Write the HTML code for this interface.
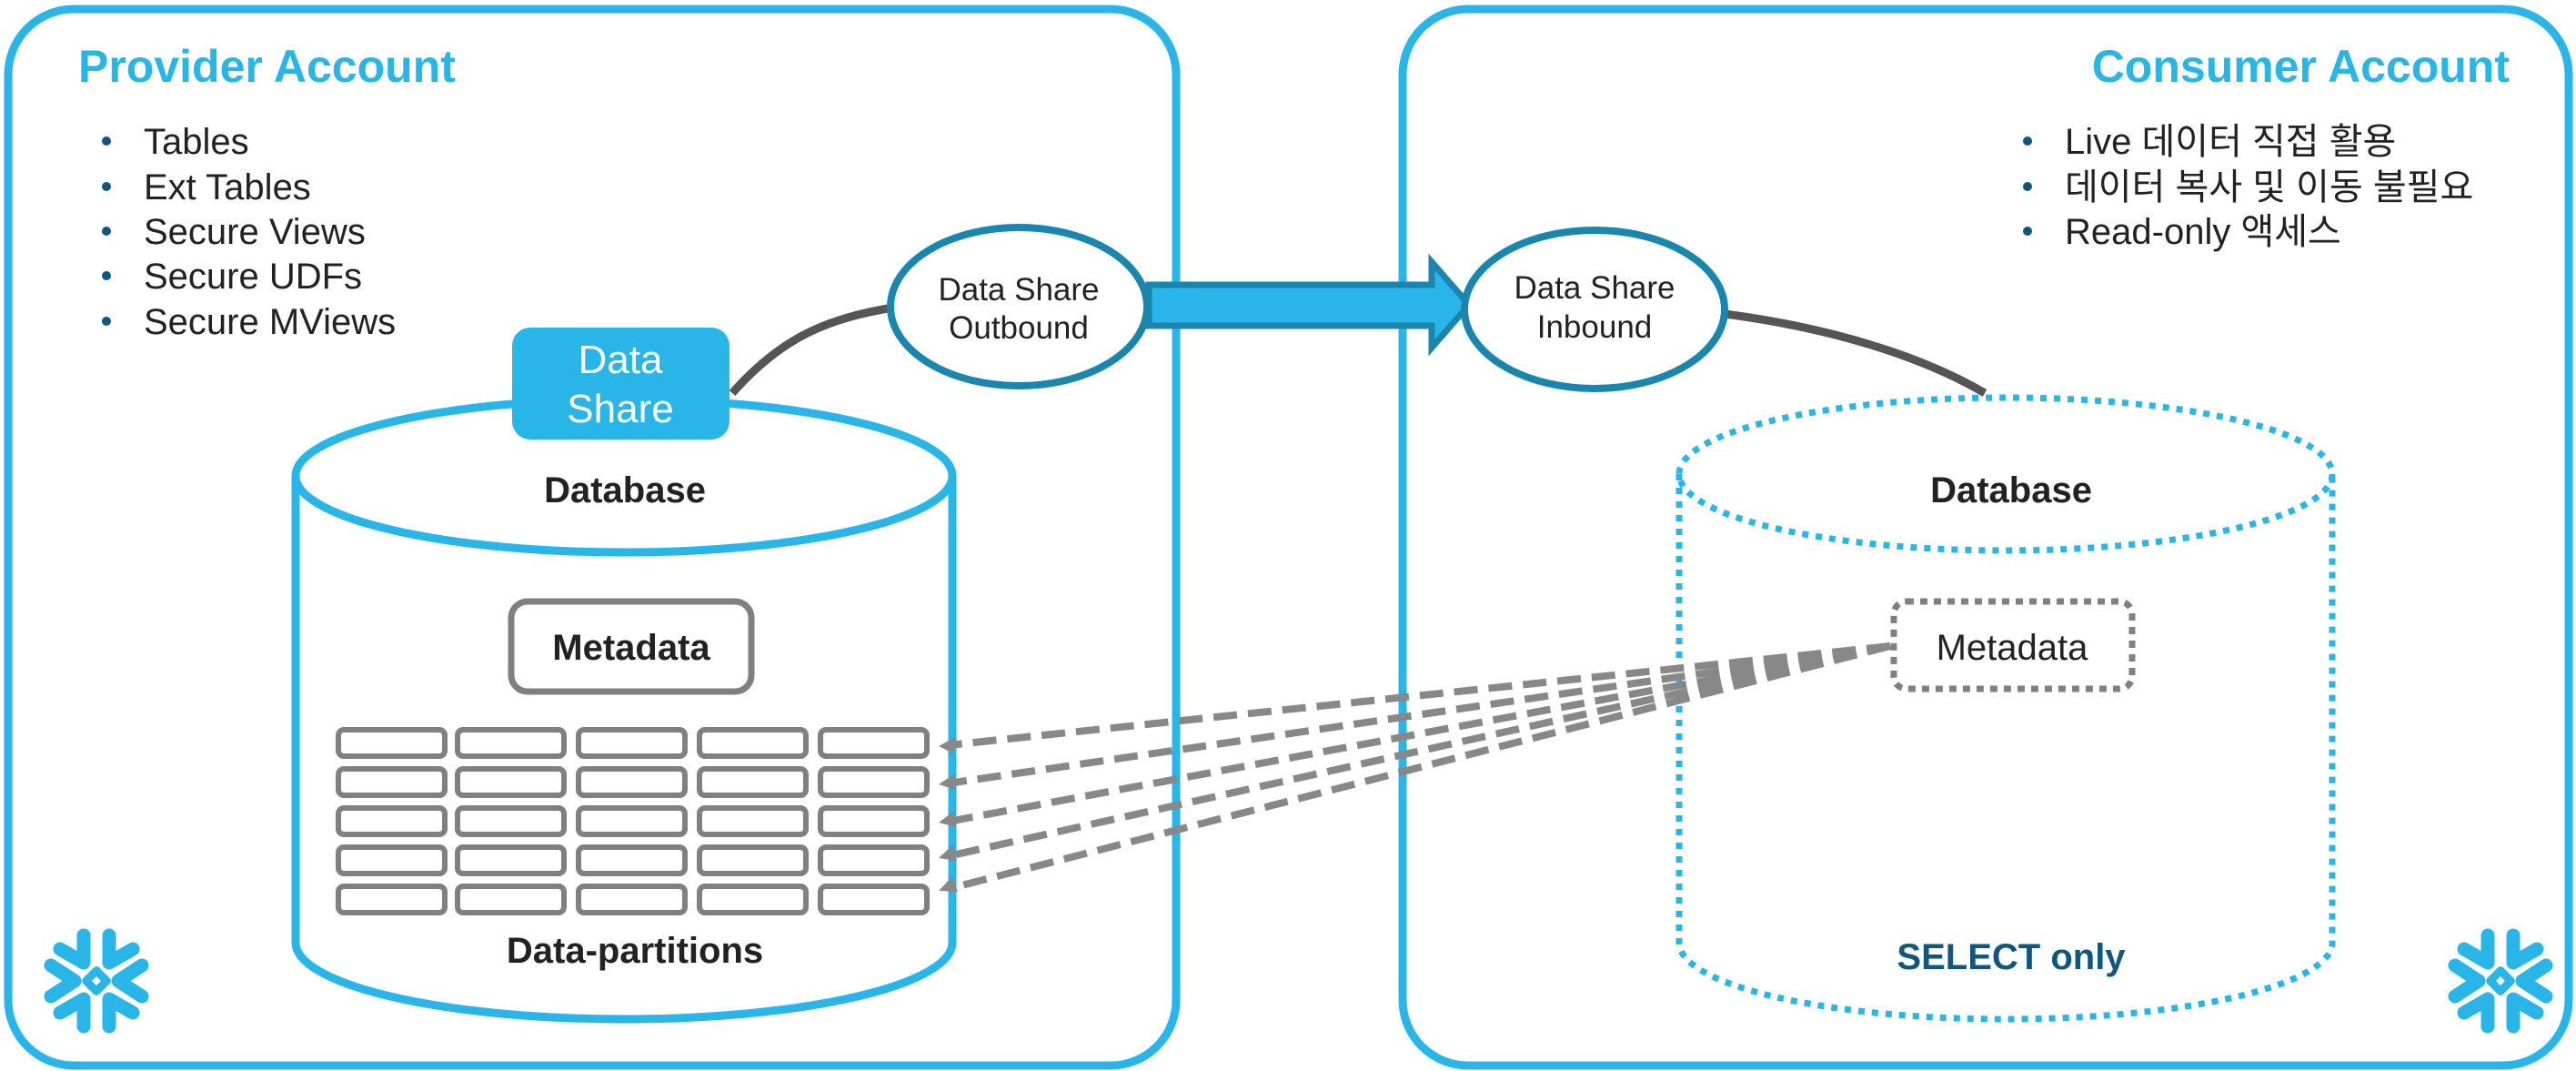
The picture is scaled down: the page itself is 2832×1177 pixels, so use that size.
<!DOCTYPE html>
<html><head><meta charset="utf-8"><style>
html,body{margin:0;padding:0;background:#fff;}
svg{display:block;}
text{font-family:"Liberation Sans","Noto Sans CJK KR",sans-serif;}
</style></head><body>
<svg width="2832" height="1177" viewBox="0 0 2832 1177" xmlns="http://www.w3.org/2000/svg">
<defs>
<g id="snow" fill="none" stroke="#29b5e8" stroke-width="15" stroke-linecap="round" stroke-linejoin="round">
  <polyline points="-14,-50 -14,-20 -40,-35"/>
  <polyline points="14,-50 14,-20 40,-35"/>
  <polyline points="-14,50 -14,20 -40,35"/>
  <polyline points="14,50 14,20 40,35"/>
  <polyline points="-50,-17 -24,0 -50,17"/>
  <polyline points="50,-17 24,0 50,17"/>
  <rect x="-8" y="-8" width="16" height="16" transform="rotate(45)" stroke-width="9"/>
</g>
</defs>

<!-- panels -->
<rect x="9" y="10" width="1284" height="1161" rx="72" fill="none" stroke="#29b5e8" stroke-width="9"/>
<rect x="1542" y="10" width="1282" height="1161" rx="72" fill="none" stroke="#29b5e8" stroke-width="9"/>

<!-- titles -->
<text x="86" y="90" font-size="50" font-weight="bold" fill="#29b5e8">Provider Account</text>
<text x="2759" y="90" font-size="50" font-weight="bold" fill="#29b5e8" text-anchor="end">Consumer Account</text>

<!-- provider bullets -->
<g font-size="40" fill="#222">
<text x="158" y="169">Tables</text>
<text x="158" y="219">Ext Tables</text>
<text x="158" y="268">Secure Views</text>
<text x="158" y="317">Secure UDFs</text>
<text x="158" y="367">Secure MViews</text>
</g>
<g fill="#11567f">
<circle cx="117" cy="155" r="5"/><circle cx="117" cy="205" r="5"/><circle cx="117" cy="254" r="5"/><circle cx="117" cy="303" r="5"/><circle cx="117" cy="353" r="5"/>
<circle cx="2229" cy="155" r="5"/><circle cx="2229" cy="205" r="5"/><circle cx="2229" cy="254" r="5"/>
</g>
<g font-size="40" fill="#222">
<text x="2270" y="169">Live 데이터 직접 활용</text>
<text x="2270" y="219">데이터 복사 및 이동 불필요</text>
<text x="2270" y="268">Read-only 액세스</text>
</g>

<!-- provider database -->
<path d="M325,523 L325,1036 A361,84 0 0 0 1047,1036 L1047,523" fill="#fff" stroke="#29b5e8" stroke-width="9"/>
<ellipse cx="686" cy="523" rx="361" ry="84" fill="#fff" stroke="#29b5e8" stroke-width="9"/>
<text x="687" y="552" font-size="40" font-weight="bold" fill="#222" text-anchor="middle">Database</text>

<!-- data share box -->
<rect x="563" y="360" width="239" height="123" rx="20" fill="#29b5e8"/>
<text x="682" y="410" font-size="44" fill="#fff" text-anchor="middle">Data</text>
<text x="682" y="464" font-size="44" fill="#fff" text-anchor="middle">Share</text>

<!-- metadata -->
<rect x="562" y="661" width="264" height="99" rx="18" fill="#fff" stroke="#808080" stroke-width="7"/>
<text x="694" y="725" font-size="40" font-weight="bold" fill="#222" text-anchor="middle">Metadata</text>

<!-- partitions -->
<g fill="none" stroke="#808080" stroke-width="6">
<g id="row">
<rect x="372" y="802" width="117" height="29" rx="6"/>
<rect x="503" y="802" width="117" height="29" rx="6"/>
<rect x="636" y="802" width="117" height="29" rx="6"/>
<rect x="769" y="802" width="117" height="29" rx="6"/>
<rect x="902" y="802" width="117" height="29" rx="6"/>
</g>
<use href="#row" y="43"/>
<use href="#row" y="86"/>
<use href="#row" y="129"/>
<use href="#row" y="172"/>
</g>
<text x="698" y="1058" font-size="40" font-weight="bold" fill="#222" text-anchor="middle">Data-partitions</text>

<!-- connectors -->
<path d="M805,432 C860,370 910,350 982,338" fill="none" stroke="#555" stroke-width="9"/>
<path d="M1896,345 C2010,360 2110,390 2182,432" fill="none" stroke="#555" stroke-width="9"/>

<!-- arrow -->
<path d="M1263,313 L1574,313 L1574,288 L1615,335 L1574,382 L1574,358 L1263,358 Z" fill="#29b5e8" stroke="#1a86ad" stroke-width="7" stroke-linejoin="miter"/>

<!-- ellipses -->
<ellipse cx="1120" cy="337" rx="141" ry="87" fill="#fff" stroke="#1a86ad" stroke-width="8"/>
<text x="1120" y="330" font-size="35" fill="#222" text-anchor="middle">Data Share</text>
<text x="1120" y="372" font-size="35" fill="#222" text-anchor="middle">Outbound</text>
<ellipse cx="1753" cy="340" rx="143" ry="87" fill="#fff" stroke="#1a86ad" stroke-width="8"/>
<text x="1753" y="328" font-size="35" fill="#222" text-anchor="middle">Data Share</text>
<text x="1753" y="371" font-size="35" fill="#222" text-anchor="middle">Inbound</text>

<!-- consumer database dotted -->
<g fill="none" stroke="#29b5e8" stroke-width="7" stroke-dasharray="7,8">
<path d="M1846,521 L1846,1036 A359,84 0 0 0 2564,1036 L2564,521"/>
<ellipse cx="2205" cy="521" rx="359" ry="84"/>
</g>
<text x="2211" y="552" font-size="40" font-weight="bold" fill="#222" text-anchor="middle">Database</text>
<rect x="2082" y="661" width="262" height="96" rx="14" fill="#fff" stroke="#808080" stroke-width="7" stroke-dasharray="8,7"/>
<text x="2212" y="725" font-size="40" fill="#222" text-anchor="middle">Metadata</text>
<text x="2211" y="1065" font-size="40" font-weight="bold" fill="#11567f" text-anchor="middle">SELECT only</text>

<!-- dashed lines -->
<g stroke="#888" stroke-width="8" stroke-dasharray="26,12" fill="none">
<line x1="2078" y1="710" x2="1042" y2="819"/>
<line x1="2078" y1="710" x2="1042" y2="861"/>
<line x1="2078" y1="710" x2="1042" y2="903"/>
<line x1="2078" y1="710" x2="1042" y2="941"/>
<line x1="2078" y1="710" x2="1042" y2="977"/>
</g>
<g fill="#888">
<polygon points="1032,820 1050,810 1048,828"/>
<polygon points="1032,862 1050,850 1050,868"/>
<polygon points="1032,904 1049,891 1051,909"/>
<polygon points="1032,943 1048,928 1052,946"/>
<polygon points="1032,979 1047,963 1053,980"/>
</g>

<!-- snowflakes -->
<use href="#snow" x="106" y="1078"/>
<use href="#snow" x="2749" y="1078"/>
</svg>
</body></html>
